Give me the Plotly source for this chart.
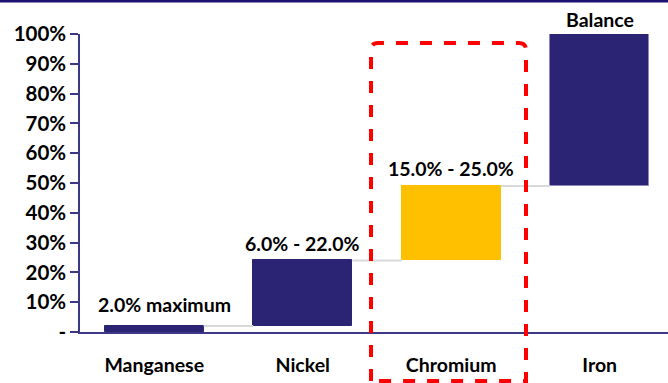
import plotly.graph_objects as go

categories = ["Manganese", "Nickel", "Chromium", "Iron"]
amounts = [2, 22, 25, 51]
labels = ["2.0% maximum", "6.0% - 22.0%", "15.0% - 25.0%", "Balance"]
colors = ["#2b2373", "#2b2373", "#FFC000", "#2b2373"]
y_ticks = [0, 10, 20, 30, 40, 50, 60, 70, 80, 90, 100]
y_ticktext = ["-"] + [f"{v}%" for v in y_ticks[1:]]

NAVY_AXIS = "#3d3787"
FONT = "Lato"
bar_w = 0.667

bases = []
tops = []
run = 0
for a in amounts:
    bases.append(run)
    run += a
    tops.append(run)

xs = list(range(len(categories)))

fig = go.Figure()

# connectors
for i in range(len(xs) - 1):
    fig.add_trace(go.Scatter(
        x=[xs[i] + bar_w / 2, xs[i + 1] - bar_w / 2],
        y=[tops[i], tops[i]],
        mode="lines", line=dict(color="#d9d9d9", width=2),
        hoverinfo="skip", showlegend=False))

fig.add_trace(go.Bar(
    x=xs, y=amounts, base=bases, width=bar_w,
    marker=dict(color=colors, line=dict(color=["#2b2373", "#2b2373", "#FFC000", "#8c88bb"], width=1)),
    showlegend=False))

label_dx = [10, 0, 0, 0]
label_dy = [22, 17, 17, 15]
for x, t, lab, dx, dy in zip(xs, tops, labels, label_dx, label_dy):
    fig.add_annotation(x=x, y=t, text=lab, showarrow=False,
                       yanchor="middle", yshift=dy, xshift=dx,
                       font=dict(family=FONT, size=19.5, color="black", weight="bold"))

L, T, B = 80, 34, 51
W, H = 668, 383
pw = W - L
ph = H - T - B

def px2paper_x(px):
    return (px - L) / pw

def px2paper_y(py):
    return (H - B - py) / ph

# red dashed highlight box with rounded corners
x0, x1 = px2paper_x(371), px2paper_x(526)
y0, y1 = px2paper_y(381), px2paper_y(43)
r = 0.012
ry = r * pw / ph
path = (f"M {x0},{y0} L {x0},{y1 - ry} Q {x0},{y1} {x0 + r},{y1} "
        f"L {x1 - r},{y1} Q {x1},{y1} {x1},{y1 - ry} L {x1},{y0} Z")
fig.add_shape(type="path", path=path, xref="paper", yref="paper",
              line=dict(color="#ff0000", width=4, dash="dash"), layer="above")

# top border line
fig.add_shape(type="line", xref="paper", yref="paper",
              x0=px2paper_x(0), x1=1, y0=px2paper_y(1), y1=px2paper_y(1),
              line=dict(color="#1c1273", width=3))

fig.update_layout(
    width=W, height=H,
    margin=dict(l=L, r=0, t=T, b=B),
    plot_bgcolor="white", paper_bgcolor="white",
    bargap=0,
    xaxis=dict(range=[-0.5, 3.46], tickvals=xs, ticktext=categories,
               showline=True, linecolor=NAVY_AXIS, linewidth=1.5,
               showgrid=False, zeroline=False, ticks="",
               ticklabelstandoff=15,
               tickfont=dict(family=FONT, size=19.5, color="black", weight="bold")),
    yaxis=dict(range=[0, 100], tickvals=y_ticks, ticktext=y_ticktext,
               showline=True, linecolor=NAVY_AXIS, linewidth=1.5,
               ticks="outside", ticklen=8, tickcolor=NAVY_AXIS, tickwidth=1.5,
               showgrid=False, zeroline=False,
               tickfont=dict(family=FONT, size=20.5, color="black", weight="bold")),
)

fig.write_html("out.html")
